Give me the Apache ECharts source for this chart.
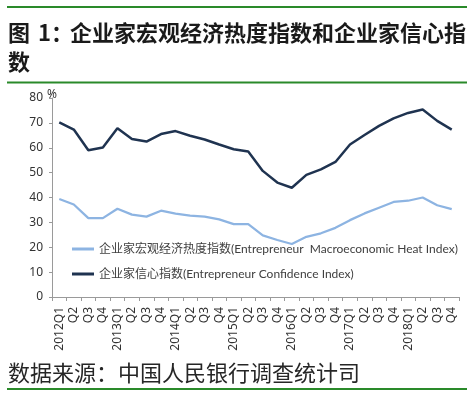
<!DOCTYPE html>
<html>
<head>
<meta charset="utf-8">
<script src="https://cdn.jsdelivr.net/npm/echarts@6/dist/echarts.min.js"></script>
<style>html,body{margin:0;padding:0;background:#fff;}#c{width:475px;height:396px;}</style>
</head>
<body>
<div id="c"></div>
<script>
const categories = ['2012Q1','Q2','Q3','Q4','2013Q1','Q2','Q3','Q4','2014Q1','Q2','Q3','Q4','2015Q1','Q2','Q3','Q4','2016Q1','Q2','Q3','Q4','2017Q1','Q2','Q3','Q4','2018Q1','Q2','Q3','Q4'];
const heatIndex = [39.4,37.2,31.7,31.7,35.5,33.1,32.3,34.7,33.5,32.7,32.3,31.2,29.3,29.3,24.8,22.9,21.3,24.2,25.6,27.8,30.9,33.6,35.9,38.2,38.7,40.0,36.9,35.3];
const confidenceIndex = [70.2,67.3,59.0,60.1,67.8,63.5,62.5,65.5,66.7,64.8,63.3,61.3,59.4,58.5,50.7,46.0,43.9,49.1,51.3,54.3,61.3,65.1,68.8,71.8,74.0,75.4,70.8,67.3];
const seriesNames = ['企业家宏观经济热度指数(Entrepreneur  Macroeconomic Heat Index)','企业家信心指数(Entrepreneur Confidence Index)'];
const yTicks = {min:0, max:80, interval:10};
const titleLine1 = '企业家宏观经济热度指数和企业家信心指';
const titleLine2 = '数';
const sourceText = '数据来源：中国人民银行调查统计司';

const chart = echarts.init(document.getElementById('c'));
const green = '#2a8a2a';
const titleStyle = {fontFamily:'"Noto Sans CJK SC"', fontSize:22, fontWeight:'bold', fill:'#1a1a1a', textVerticalAlign:'middle'};
chart.setOption({
  backgroundColor:'#fff',
  animation:false,
  legend:{
    orient:'vertical', left:72, top:242, padding:0,
    itemGap:11, itemWidth:22, itemHeight:3, icon:'rect',
    textStyle:{fontFamily:'Lato, "Noto Sans CJK SC"', fontSize:12, color:'#404040', lineHeight:14},
    data:seriesNames
  },
  grid:{left:52, right:16, top:98, bottom:99, containLabel:false},
  xAxis:{
    type:'category', data:categories, boundaryGap:true,
    axisLine:{lineStyle:{color:'#9a9a9a', width:1}},
    axisTick:{show:true, interval:0, length:4, lineStyle:{color:'#9a9a9a'}},
    axisLabel:{interval:0, rotate:90, margin:10, fontFamily:'"Noto Sans"', fontSize:12, color:'#333'},
    splitLine:{show:false}
  },
  yAxis:{
    type:'value', min:yTicks.min, max:yTicks.max, interval:yTicks.interval,
    axisLine:{show:true, lineStyle:{color:'#9a9a9a', width:1}},
    axisTick:{show:true, length:3, lineStyle:{color:'#9a9a9a'}},
    axisLabel:{margin:9, fontFamily:'"Noto Sans"', fontSize:12, color:'#333'},
    splitLine:{show:false}
  },
  series:[
    {name:seriesNames[0], type:'line', data:heatIndex, symbol:'none', lineStyle:{color:'#8db4e2', width:2.25}, itemStyle:{color:'#8db4e2'}},
    {name:seriesNames[1], type:'line', data:confidenceIndex, symbol:'none', lineStyle:{color:'#1f3350', width:2.5}, itemStyle:{color:'#1f3350'}}
  ],
  graphic:[
    {type:'rect', shape:{x:7, y:6, width:460, height:2}, style:{fill:green}},
    {type:'rect', shape:{x:7, y:81.5, width:460, height:2}, style:{fill:green}},
    {type:'rect', shape:{x:7, y:388, width:460, height:2}, style:{fill:green}},
    {type:'text', x:8, y:33, style:Object.assign({text:'图'}, titleStyle)},
    {type:'text', x:38, y:33, style:Object.assign({text:'1：'}, titleStyle)},
    {type:'text', x:70, y:33, style:Object.assign({text:titleLine1}, titleStyle)},
    {type:'text', x:8, y:62, style:Object.assign({text:titleLine2}, titleStyle)},
    {type:'text', x:47, y:89, style:{text:'%', fontFamily:'"Noto Sans"', fontSize:12, fill:'#333'}},
    {type:'text', x:8, y:373, style:{text:sourceText, fontFamily:'"Noto Sans CJK SC"', fontSize:22, fill:'#262626', textVerticalAlign:'middle'}}
  ]
});
</script>
</body>
</html>
